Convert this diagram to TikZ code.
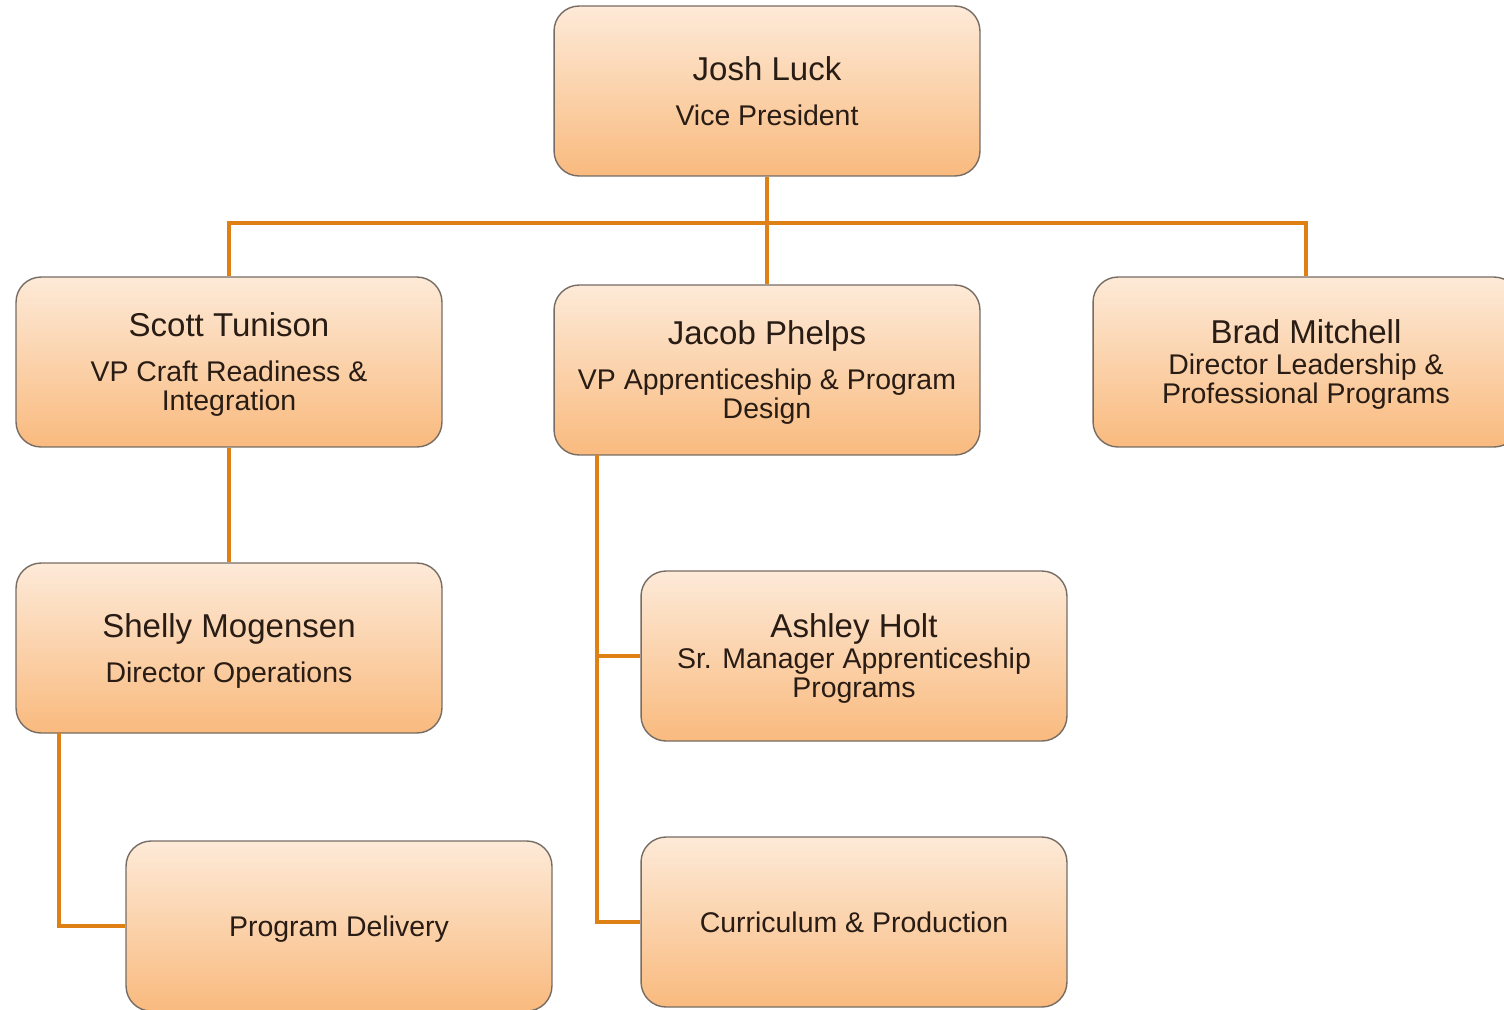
\documentclass[tikz,border=0pt]{standalone}
\usepackage{fontspec}
\setmainfont{Liberation Sans}
\usepackage{xcolor}
\usepackage{tikz}

\definecolor{boxtop}{RGB}{253,234,216}
\definecolor{boxbot}{RGB}{249,186,126}
\definecolor{boxline}{RGB}{118,108,100}
\definecolor{linkline}{RGB}{222,128,20}
\definecolor{ink}{RGB}{40,28,20}

\newcommand{\pname}[1]{{\fontsize{18.8}{16.3}\selectfont\rule{0pt}{16.6pt}#1}}
\newcommand{\ptask}[1]{\rule{0pt}{14.8pt}#1}

\begin{document}
\begin{tikzpicture}[x=0.02cm,y=-0.02cm,
    card/.style={draw=boxline,line width=0.8pt,rounded corners=0.5cm,
      top color=boxtop,bottom color=boxbot,text=ink,align=center,
      minimum width=8.52cm,minimum height=3.4cm,inner sep=0pt,
      font=\fontsize{16.2}{16.3}\selectfont},
    link/.style={draw=linkline,line width=2pt}]
      \useasboundingbox (0,0) rectangle (1504,1009);
      \node[card] (JL) at (767,91) {{\fontsize{18.8}{16.3}\selectfont Josh Luck}\\[9.3pt]Vice President};
      \node[card] (ST) at (229,362) {\pname{Scott Tunison}\\[9.3pt]VP Craft Readiness \&\\Integration};
      \node[card] (JP) at (767,370) {\pname{Jacob Phelps}\\[9.3pt]VP Apprenticeship \& Program\\Design};
      \node[card] (BM) at (1306,362) {\pname{Brad Mitchell}\\[1.3pt]Director Leadership \&\\Professional Programs};
      \node[card] (SM) at (229,648) {\pname{Shelly Mogensen}\\[9.3pt]Director Operations};
      \node[card] (AH) at (854,656) {\pname{Ashley Holt}\\[1.3pt]Sr. Manager Apprenticeship\\Programs};
      \node[card] (PD) at (339,926) {\ptask{Program Delivery}};
      \node[card] (CP) at (854,922) {Curriculum \& Production};
        % connectors
      \coordinate (hub) at (767,223);
      \coordinate (JPbar) at (597,455);
      \coordinate (SMbar) at (59,733);
      \draw[link] (JL.south) -- (JP.north);
      \draw[link] (ST.north) |- (hub) -| (BM.north);
      \draw[link] (ST.south) -- (SM.north);
      \draw[link] (JPbar) |- (AH.west);
      \draw[link] (JPbar) |- (CP.west);
      \draw[link] (SMbar) |- (PD.west);
    \end{tikzpicture}
\end{document}
